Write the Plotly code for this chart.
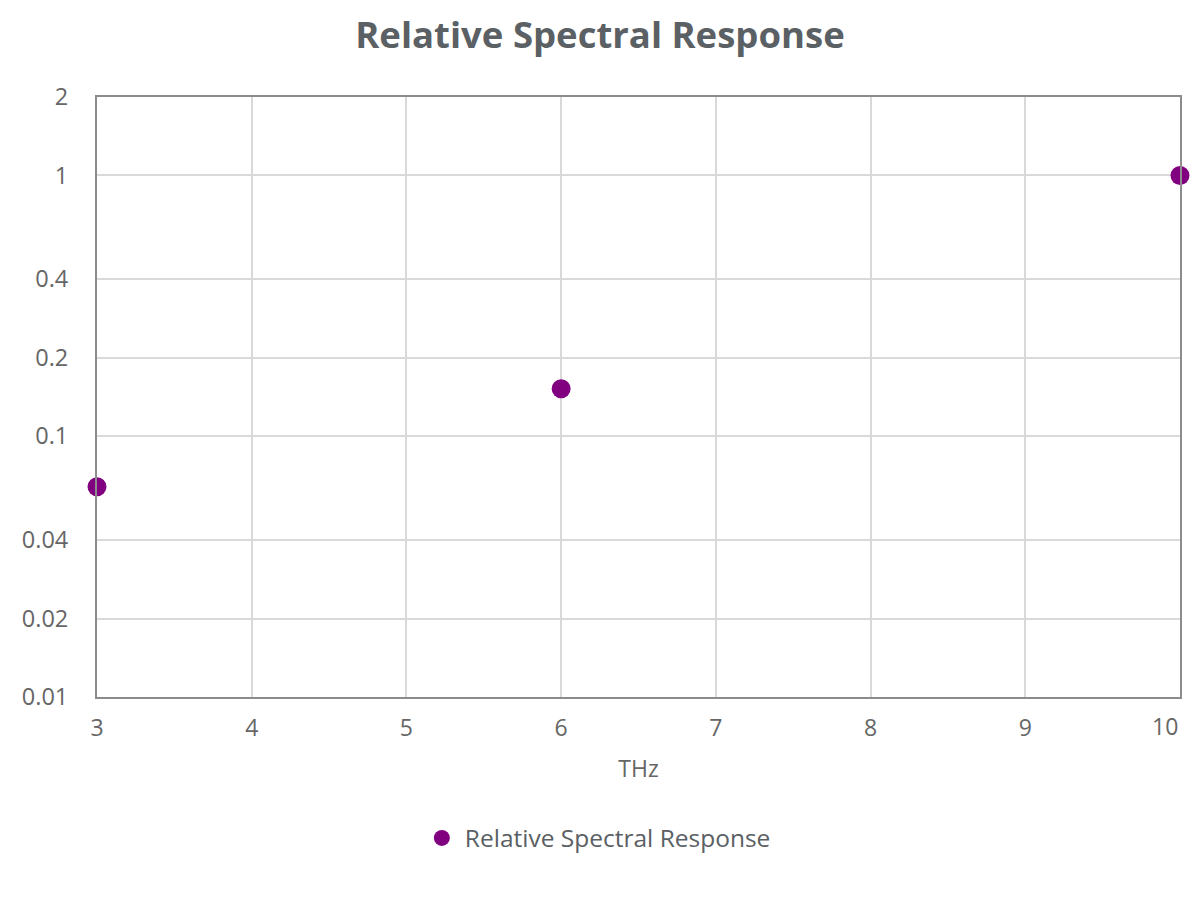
import plotly.graph_objects as go

series_name = "Relative Spectral Response"
freq_thz = [3, 6, 10]
response = [0.064, 0.152, 1.0]

x_ticks = [3, 4, 5, 6, 7, 8, 9, 10]
x_tick_labels = ["3", "4", "5", "6", "7", "8", "9", "10"]
y_ticks = [0.01, 0.02, 0.04, 0.1, 0.2, 0.4, 1, 2]
y_tick_labels = ["0.01", "0.02", "0.04", "0.1", "0.2", "0.4", "1", "2"]

font_family = "Open Sans"
tick_font = dict(family=font_family, size=23, color="#666666")

fig = go.Figure()
fig.add_trace(go.Scatter(
    x=freq_thz, y=response, mode="markers", name=series_name,
    marker=dict(color="#800080", size=19, line=dict(width=0)),
    cliponaxis=False,
))

# last x tick label is drawn right-aligned to the plot edge (as in the reference)
shown_labels = x_tick_labels[:-1] + [""]
fig.add_annotation(
    x=x_ticks[-1], xref="x", xanchor="right",
    y=-29 / 600, yref="paper", yanchor="middle",
    text=x_tick_labels[-1], showarrow=False, font=tick_font,
)

fig.update_layout(
    width=1200, height=900,
    paper_bgcolor="white", plot_bgcolor="white",
    margin=dict(l=97, r=20, t=97, b=203, autoexpand=False),
    title=dict(text="<b>Relative Spectral Response</b>", x=0.5, xanchor="center",
               y=1 - 35 / 900, yanchor="middle",
               font=dict(family=font_family, size=36.5, color="#5a6064")),
    showlegend=True,
    legend=dict(orientation="h", x=0.462, xanchor="center", y=-0.235, yanchor="middle",
                font=dict(family=font_family, size=24.5, color="#5a6064"),
                itemsizing="trace", itemwidth=36),
    font=dict(family=font_family),
)

fig.update_xaxes(
    range=[3, 10], tickvals=x_ticks, ticktext=shown_labels,
    showgrid=True, gridcolor="#d9d9d9", gridwidth=2,
    showline=True, linecolor="#8c8c8c", linewidth=2, mirror=True,
    zeroline=False, ticks="", automargin=False,
    tickfont=tick_font,
    ticklabelstandoff=9,
    title=dict(text="THz", font=dict(family=font_family, size=23, color="#666666"), standoff=19),
)
fig.update_yaxes(
    type="log", range=[-2, 0.30103], tickvals=y_ticks, ticktext=y_tick_labels,
    showgrid=True, gridcolor="#d9d9d9", gridwidth=2,
    showline=True, linecolor="#8c8c8c", linewidth=2, mirror=True,
    zeroline=False, ticks="", automargin=False,
    tickfont=dict(family=font_family, size=23.5, color="#666666"),
    ticklabelstandoff=22,
)

fig.write_html("out.html")
